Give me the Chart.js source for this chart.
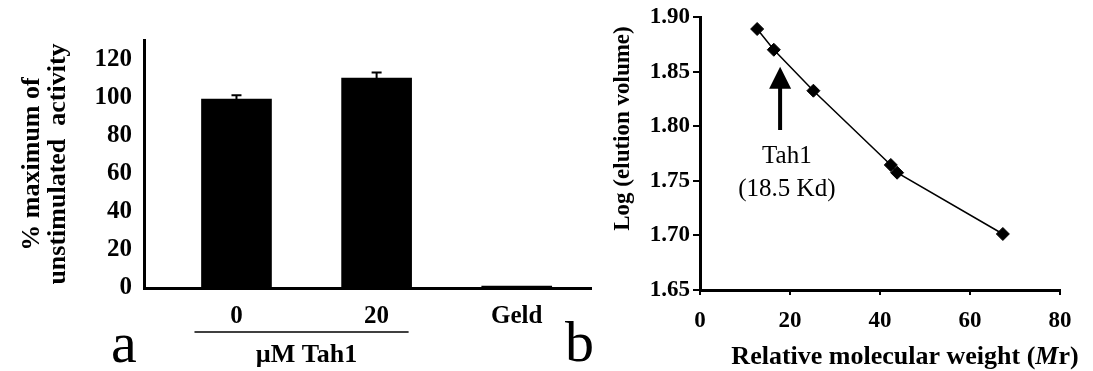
<!DOCTYPE html>
<html>
<head>
<meta charset="utf-8">
<script src="https://cdn.jsdelivr.net/npm/chart.js@4.4.1/dist/chart.umd.min.js"></script>
<style>
  html, body { margin: 0; padding: 0; background: #fff; }
  #wrap { position: relative; width: 1093px; height: 371px; overflow: hidden; }
  canvas { position: absolute; top: 0; }
  #chart-a { left: 0; }
  #chart-b { left: 595px; }
  .panel-tag { position: absolute; font-family: 'Liberation Serif', 'Times New Roman', serif; font-size: 58px; line-height: 58px; color: #000; }
</style>
</head>
<body>
<div id="wrap">
  <canvas id="chart-a" width="640" height="371"></canvas>
  <canvas id="chart-b" width="498" height="371"></canvas>
  <div class="panel-tag" style="left:111px;top:314px">a</div>
  <div class="panel-tag" style="left:565px;top:313px">b</div>
</div>
<script>
const SERIF = "'Liberation Serif', 'Times New Roman', serif";

// panel a - activity with Tah1 / geldanamycin
const activityLabels = ['0', '20', 'Geld'];
const activityValues = [99, 110, 1];
const activityErrors = [2, 3, 0];
const activityTicks = [0, 20, 40, 60, 80, 100, 120];
const activityTitle = ['% maximum of', 'unstimulated  activity'];
const groupText = 'µM Tah1';
const groupMembers = [0, 1];

// panel b - gel filtration standards
const mwValues = [12.7, 16.4, 25.2, 42.4, 43.8, 67.3];
const logElution = [1.889, 1.870, 1.8325, 1.7645, 1.7574, 1.7013];
const mwTicks = [0, 20, 40, 60, 80];
const elutionTicks = [1.65, 1.70, 1.75, 1.80, 1.85, 1.90];
const mwTitle = ['Relative molecular weight (', 'M', 'r)'];
const elutionTitle = 'Log (elution volume)';
const arrowX = 17.8;
const arrowTip = 1.8545;
const arrowBase = 1.7965;
const arrowText = ['Tah1', '(18.5 Kd)'];
const arrowTextX = 19.3;
const arrowTextY = [1.772, 1.742];

Chart.defaults.color = '#000';
Chart.defaults.font.family = SERIF;

const bold = (size, lineHeight) => ({ family: SERIF, size, weight: 'bold', lineHeight: lineHeight || 1.2 });

const errorBars = {
  id: 'errorBars',
  afterDatasetsDraw(chart) {
    const { ctx, scales: { y } } = chart;
    const bars = chart.getDatasetMeta(0).data;
    ctx.save();
    ctx.strokeStyle = '#000';
    ctx.lineWidth = 2;
    bars.forEach((bar, i) => {
      const err = activityErrors[i];
      if (!err) return;
      const top = y.getPixelForValue(activityValues[i] + err);
      ctx.beginPath();
      ctx.moveTo(bar.x, bar.y);
      ctx.lineTo(bar.x, top);
      ctx.moveTo(bar.x - 5, top);
      ctx.lineTo(bar.x + 5, top);
      ctx.stroke();
    });
    ctx.restore();
  },
};

const groupBracket = {
  id: 'groupBracket',
  afterDraw(chart) {
    const { ctx, scales: { x } } = chart;
    const first = x.getPixelForValue(groupMembers[0]);
    const last = x.getPixelForValue(groupMembers[groupMembers.length - 1]);
    ctx.save();
    ctx.strokeStyle = '#000';
    ctx.lineWidth = 1.5;
    ctx.beginPath();
    ctx.moveTo(first - 42, 332);
    ctx.lineTo(last + 32, 332);
    ctx.stroke();
    ctx.fillStyle = '#000';
    ctx.font = `bold 26px ${SERIF}`;
    ctx.textAlign = 'center';
    ctx.textBaseline = 'middle';
    ctx.fillText(groupText, (first + last) / 2, 355);
    ctx.restore();
  },
};

const tahArrow = {
  id: 'tahArrow',
  afterDatasetsDraw(chart) {
    const { ctx, scales: { x, y } } = chart;
    const ax = x.getPixelForValue(arrowX);
    const tip = y.getPixelForValue(arrowTip);
    const base = y.getPixelForValue(arrowBase);
    ctx.save();
    ctx.fillStyle = '#000';
    ctx.strokeStyle = '#000';
    ctx.lineWidth = 4;
    ctx.beginPath();
    ctx.moveTo(ax, base);
    ctx.lineTo(ax, tip + 20);
    ctx.stroke();
    ctx.beginPath();
    ctx.moveTo(ax, tip);
    ctx.lineTo(ax - 11, tip + 22);
    ctx.lineTo(ax + 11, tip + 22);
    ctx.closePath();
    ctx.fill();
    ctx.font = `25px ${SERIF}`;
    ctx.textAlign = 'center';
    ctx.textBaseline = 'middle';
    arrowText.forEach((t, i) => {
      ctx.fillText(t, x.getPixelForValue(arrowTextX), y.getPixelForValue(arrowTextY[i]));
    });
    ctx.restore();
  },
};

// axis titles of panel b: italic M in Mr, y title sits a little above centre
const axisTitlesB = {
  id: 'axisTitlesB',
  afterDraw(chart) {
    const { ctx, chartArea } = chart;
    ctx.save();
    ctx.fillStyle = '#000';
    ctx.textBaseline = 'middle';
    const fonts = [`bold 26px ${SERIF}`, `italic bold 26px ${SERIF}`, `bold 26px ${SERIF}`];
    const widths = mwTitle.map((t, i) => { ctx.font = fonts[i]; return ctx.measureText(t).width; });
    const total = widths.reduce((a, b) => a + b, 0);
    let tx = (chartArea.left + chartArea.right) / 2 + 25 - total / 2;
    ctx.textAlign = 'left';
    mwTitle.forEach((t, i) => {
      ctx.font = fonts[i];
      ctx.fillText(t, tx, 357);
      tx += widths[i];
    });
    ctx.translate(28, (chartArea.top + chartArea.bottom) / 2 - 25);
    ctx.rotate(-Math.PI / 2);
    ctx.textAlign = 'center';
    ctx.font = `bold 23px ${SERIF}`;
    ctx.fillText(elutionTitle, 0, 0);
    ctx.restore();
  },
};

new Chart(document.getElementById('chart-a'), {
  type: 'bar',
  data: {
    datasets: [{
      data: activityValues.map((v, i) => ({ x: i, y: v })),
      backgroundColor: '#000',
      borderWidth: 0,
      barThickness: 70,
    }],
  },
  options: {
    responsive: false,
    animation: false,
    layout: { padding: { top: 40, right: 49, left: 0, bottom: 0 } },
    plugins: { legend: { display: false }, tooltip: { enabled: false } },
    scales: {
      x: {
        type: 'linear',
        min: -0.66,
        max: 2.53,
        offset: false,
        afterBuildTicks: (s) => { s.ticks = activityLabels.map((_, i) => ({ value: i })); },
        afterFit: (s) => { s.height = 83; },
        grid: { display: false, drawTicks: false, offset: false },
        border: { display: true, color: '#000', width: 3 },
        ticks: {
          callback: (v) => activityLabels[v],
          padding: 14,
          autoSkip: false,
          maxRotation: 0,
          font: bold(25),
        },
      },
      y: {
        min: 0,
        max: 130,
        afterBuildTicks: (s) => { s.ticks = activityTicks.map((value) => ({ value })); },
        afterFit: (s) => { s.width = 144; },
        grid: { display: false, drawTicks: false },
        border: { display: true, color: '#000', width: 3 },
        ticks: { padding: 12, font: bold(25) },
        title: {
          display: true,
          text: activityTitle,
          padding: { top: 19, bottom: 0 },
          font: bold(26, 1.0),
        },
      },
    },
  },
  plugins: [errorBars, groupBracket],
});

new Chart(document.getElementById('chart-b'), {
  type: 'line',
  data: {
    datasets: [{
      data: mwValues.map((x, i) => ({ x, y: logElution[i] })),
      borderColor: '#000',
      borderWidth: 1.5,
      tension: 0,
      pointStyle: 'rectRot',
      pointRadius: 6.5,
      pointBackgroundColor: '#000',
      pointBorderColor: '#000',
      pointBorderWidth: 1,
    }],
  },
  options: {
    responsive: false,
    animation: false,
    layout: { padding: { top: 17, right: 33, left: 0, bottom: 0 } },
    plugins: { legend: { display: false }, tooltip: { enabled: false } },
    scales: {
      x: {
        type: 'linear',
        min: 0,
        max: 80,
        afterBuildTicks: (s) => { s.ticks = mwTicks.map((value) => ({ value })); },
        afterFit: (s) => { s.height = 81; },
        grid: { display: true, drawOnChartArea: false, drawTicks: true, tickLength: 5, color: '#000', lineWidth: 2 },
        border: { display: true, color: '#000', width: 3 },
        ticks: { padding: 12, maxRotation: 0, autoSkip: false, font: bold(23) },
      },
      y: {
        min: 1.65,
        max: 1.90,
        afterBuildTicks: (s) => { s.ticks = elutionTicks.map((value) => ({ value })); },
        afterFit: (s) => { s.width = 105; },
        grid: { display: true, drawOnChartArea: false, drawTicks: true, tickLength: 7, color: '#000', lineWidth: 2 },
        border: { display: true, color: '#000', width: 3 },
        ticks: { padding: 3, callback: (v) => v.toFixed(2), font: bold(23) },
      },
    },
  },
  plugins: [tahArrow, axisTitlesB],
});
</script>
</body>
</html>
